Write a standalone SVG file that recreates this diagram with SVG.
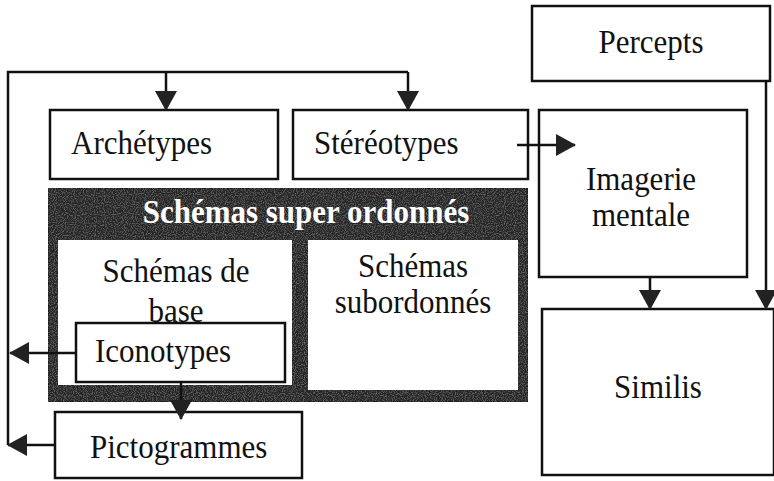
<svg xmlns="http://www.w3.org/2000/svg" width="774" height="481" viewBox="0 0 774 481">
<style>
.box{fill:#fff;stroke:#111;stroke-width:2.5}
.t{font-family:"Liberation Serif","Times New Roman",serif;font-size:31px;fill:#111}
.c{text-anchor:middle}
.w{fill:#fff;font-weight:bold}
.ln{fill:none;stroke:#111;stroke-width:2.5}
</style>
<defs>
<marker id="ah" markerUnits="userSpaceOnUse" markerWidth="22" markerHeight="24" viewBox="0 0 20 24" refX="19" refY="12" orient="auto">
<path d="M0,1 L20,12 L0,23 Z" fill="#222"/>
</marker>
<filter id="noise" x="0" y="0" width="100%" height="100%">
<feTurbulence type="fractalNoise" baseFrequency="0.9" numOctaves="1" result="n"/>
<feColorMatrix in="n" type="matrix" values="0 0 0 0 0.35  0 0 0 0 0.35  0 0 0 0 0.35  0 0 0 1.2 -0.55" result="m"/>
<feComposite in="m" in2="SourceGraphic" operator="in" result="c"/>
<feMerge><feMergeNode in="SourceGraphic"/><feMergeNode in="c"/></feMerge>
</filter>
</defs>
<rect width="774" height="481" fill="#fff"/>
<g id="percepts"><rect class="box" x="532" y="6" width="238" height="75"/><text class="t c" transform="translate(651 53) scale(1 1.1)">Percepts</text></g>
<g id="archetypes"><rect class="box" x="50" y="110" width="228" height="69"/><text class="t" transform="translate(71 154) scale(1 1.1)">Archétypes</text></g>
<g id="stereotypes"><rect class="box" x="293" y="110" width="235" height="69"/><text class="t" transform="translate(314 154) scale(1 1.1)">Stéréotypes</text></g>
<g id="imagerie"><rect class="box" x="539" y="110" width="208" height="167"/><text class="t c" transform="translate(641 190) scale(1 1.1)">Imagerie</text><text class="t c" transform="translate(641 226) scale(1 1.1)">mentale</text></g>
<g id="super"><rect x="48" y="188" width="480" height="214" fill="#262626" stroke="#1a1a1a" stroke-width="2" filter="url(#noise)"/><text class="t c w" transform="translate(306 223) scale(1 1.1)">Schémas super ordonnés</text></g>
<g id="base"><rect x="58" y="240" width="234" height="145" fill="#fff"/><text class="t c" transform="translate(176 282) scale(1 1.1)">Schémas de</text><text class="t c" transform="translate(176 322) scale(1 1.1)">base</text></g>
<g id="subordonnes"><rect x="308" y="240" width="210" height="150" fill="#fff"/><text class="t c" transform="translate(413 277) scale(1 1.1)">Schémas</text><text class="t c" transform="translate(413 313) scale(1 1.1)">subordonnés</text></g>
<g id="iconotypes"><rect class="box" x="76" y="323" width="209" height="59"/><text class="t" transform="translate(95 362) scale(1 1.1)">Iconotypes</text></g>
<g id="pictogrammes"><rect class="box" x="55" y="412" width="247" height="66"/><text class="t" transform="translate(90 458) scale(1 1.1)">Pictogrammes</text></g>
<g id="similis"><rect class="box" x="542" y="309" width="232" height="166"/><text class="t c" transform="translate(658 398) scale(1 1.1)">Similis</text></g>
<g id="connectors">
<path class="ln" d="M8,445 V72 H408"/>
<path class="ln" d="M166,72 V110" marker-end="url(#ah)"/>
<path class="ln" d="M408,72 V110" marker-end="url(#ah)"/>
<path class="ln" d="M76,353 H10" marker-end="url(#ah)"/>
<path class="ln" d="M55,445 H8" marker-end="url(#ah)"/>
<path class="ln" d="M181,382 V419" marker-end="url(#ah)"/>
<path class="ln" d="M517,145 H575" marker-end="url(#ah)"/>
<path class="ln" d="M650,277 V309" marker-end="url(#ah)"/>
<path class="ln" d="M766,81 V309" marker-end="url(#ah)"/>
</g>
</svg>
